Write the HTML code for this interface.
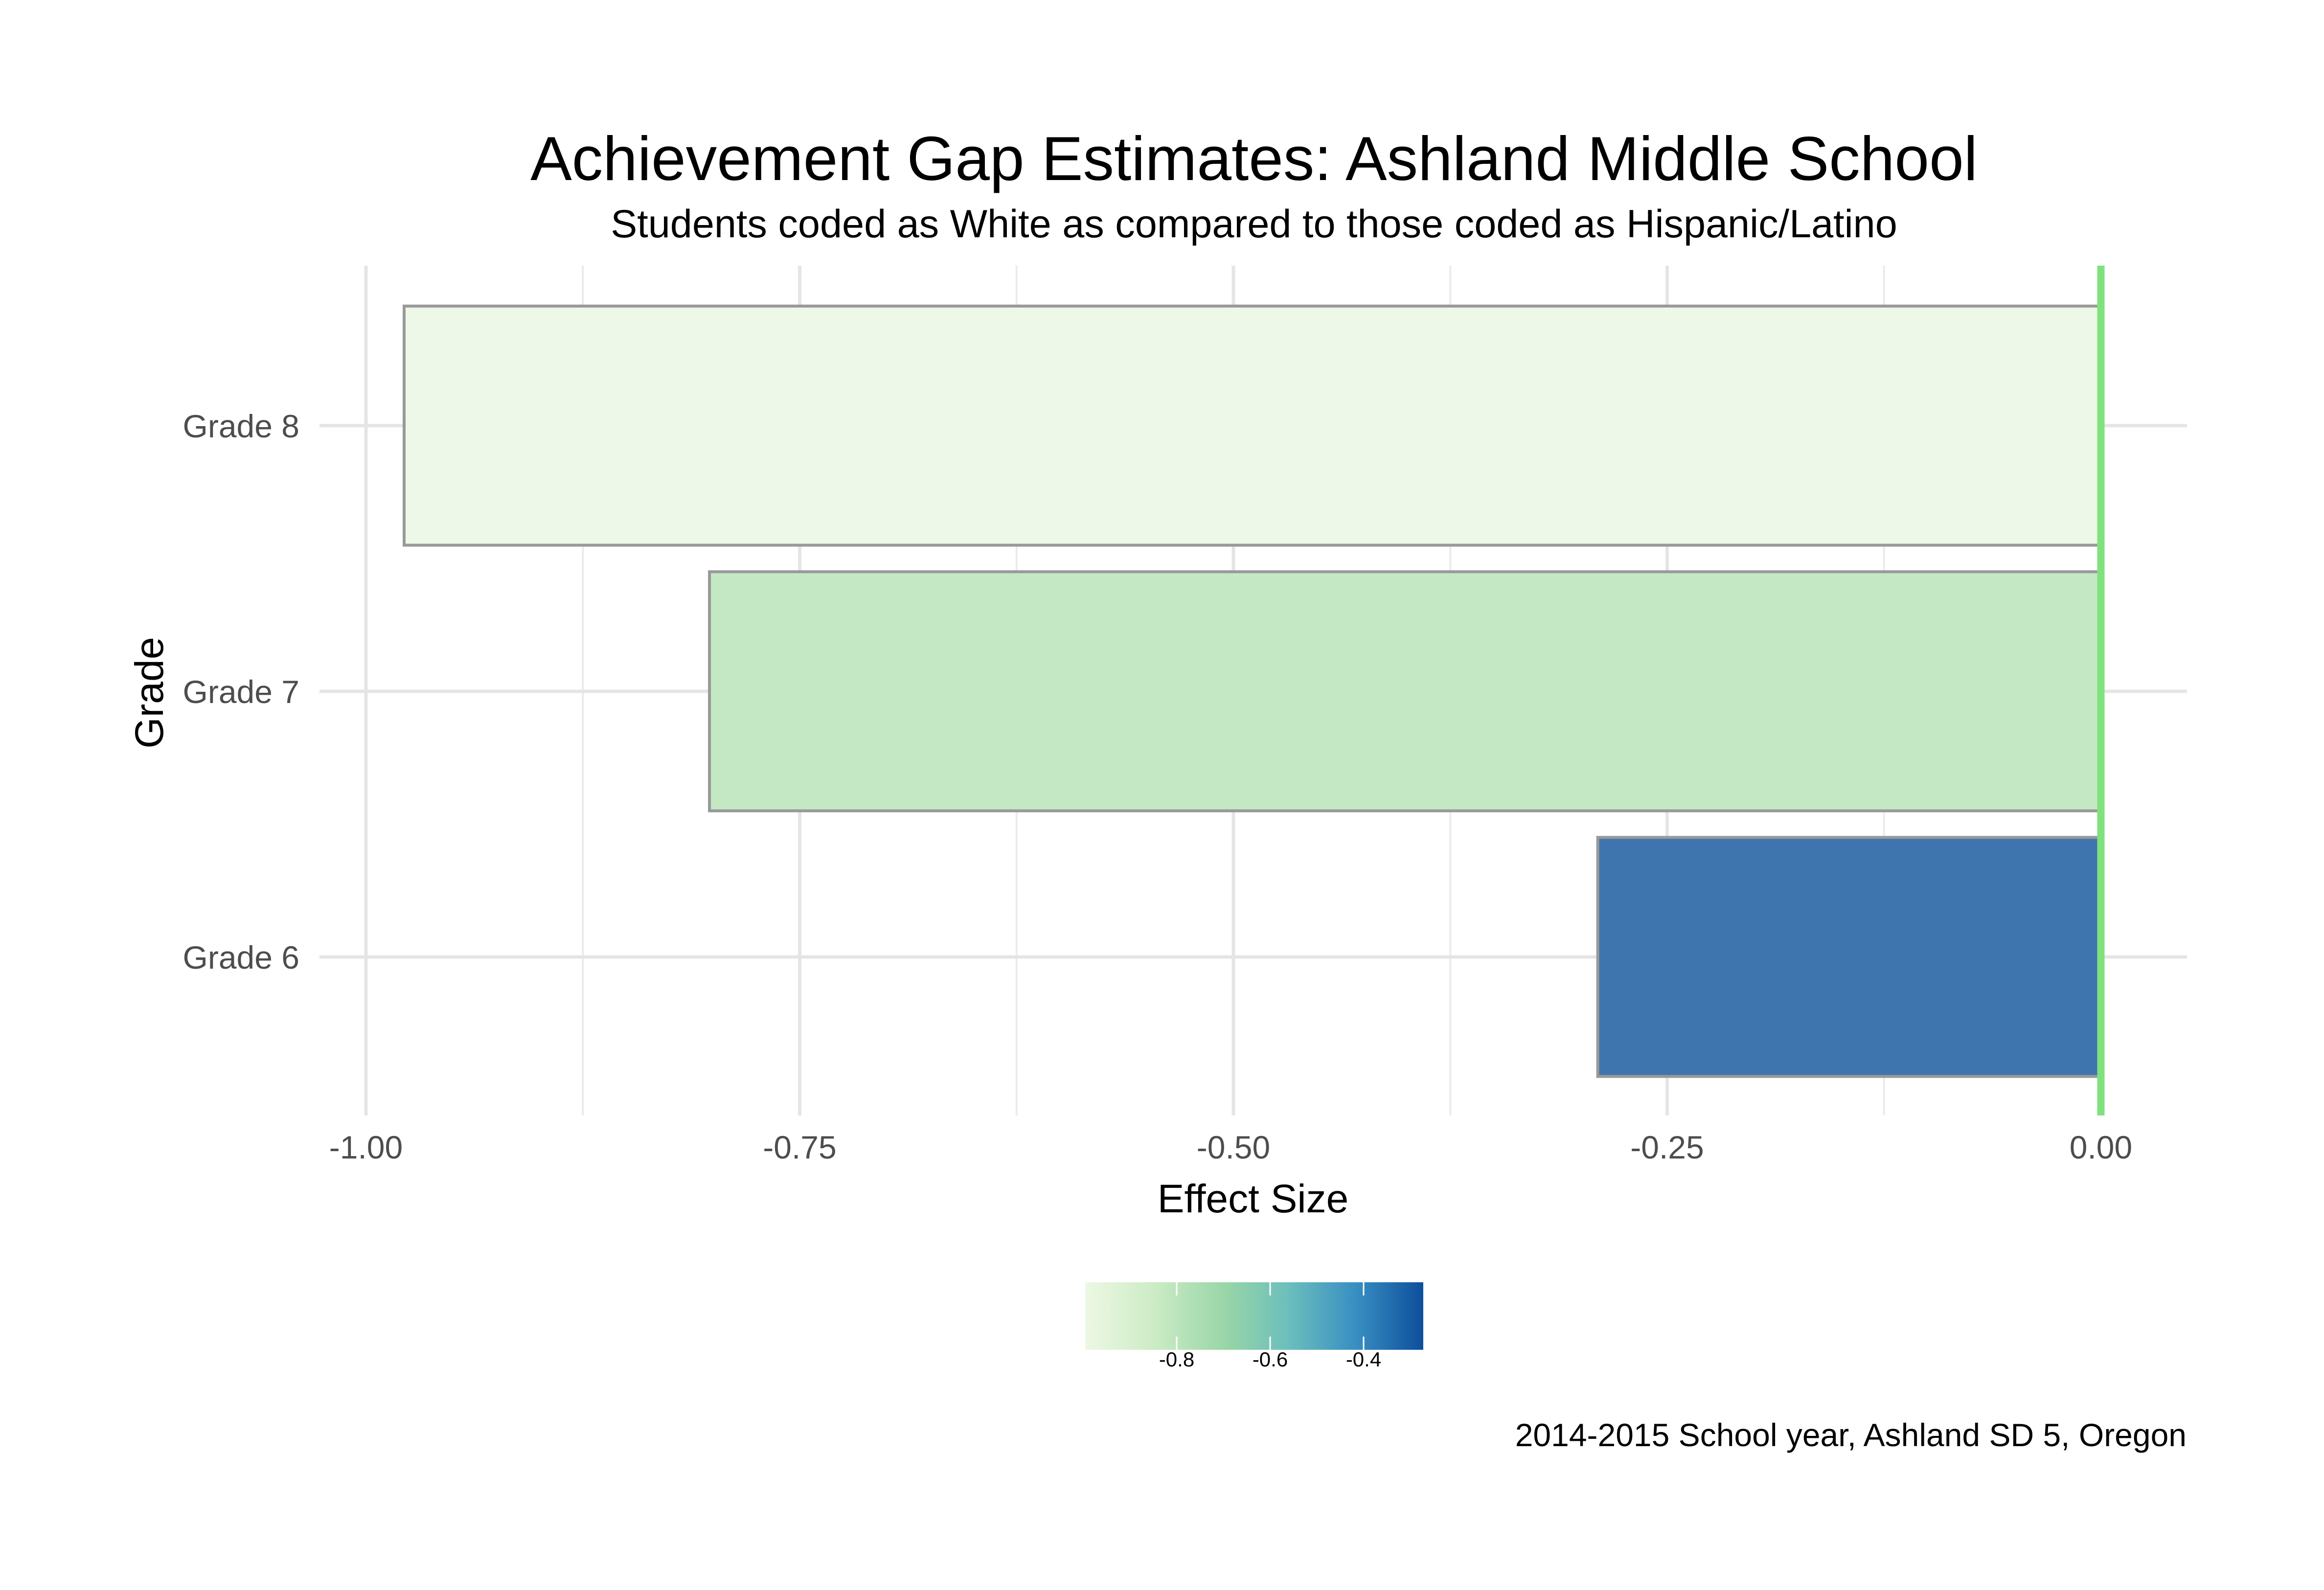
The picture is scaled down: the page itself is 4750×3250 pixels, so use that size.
<!DOCTYPE html>
<html><head><meta charset="utf-8"><style>
html,body{margin:0;padding:0;background:#fff;}
svg{display:block;font-family:"Liberation Sans",sans-serif;}
</style></head><body>
<svg id="chart" width="4750" height="3250" xmlns="http://www.w3.org/2000/svg">
<defs>
<linearGradient id="gnbu" x1="0" x2="1" y1="0" y2="0">
<stop offset="0" stop-color="#edf8e4"/>
<stop offset="0.2" stop-color="#cdecc6"/>
<stop offset="0.42" stop-color="#97d5a7"/>
<stop offset="0.6" stop-color="#6cbfbc"/>
<stop offset="0.8" stop-color="#388fc2"/>
<stop offset="1" stop-color="#0d4f9c"/>
</linearGradient>
</defs>
<g id="grid"></g>
<g id="bars"></g>
<g id="axes"></g>
<text x="2563" y="368" font-size="127" text-anchor="middle" fill="#000">Achievement Gap Estimates: Ashland Middle School</text>
<text x="2563" y="485" font-size="81" text-anchor="middle" fill="#000">Students coded as White as compared to those coded as Hispanic/Latino</text>
<text x="2561" y="2478" font-size="82" text-anchor="middle" fill="#000">Effect Size</text>
<text x="0" y="0" font-size="82" text-anchor="middle" fill="#000" transform="translate(333,1416) rotate(-90)">Grade</text>
<rect x="2218" y="2621" width="691" height="138" fill="url(#gnbu)"/>
<g id="legend"></g>
<text x="4469" y="2956" font-size="66" text-anchor="end" fill="#000">2014-2015 School year, Ashland SD 5, Oregon</text>
</svg>
<script>
const categories = ["Grade 6", "Grade 7", "Grade 8"];
const values = [-0.290, -0.802, -0.978];
const barColors = ["#3e75ae", "#c5e8c4", "#eef8e9"];
const xTicks = [-1.00, -0.75, -0.50, -0.25, 0.00];
const xTickLabels = ["-1.00", "-0.75", "-0.50", "-0.25", "0.00"];
const xMinor = [-0.875, -0.625, -0.375, -0.125];
const legendTicks = [-0.8, -0.6, -0.4];
const legendLabels = ["-0.8", "-0.6", "-0.4"];

const NS = "http://www.w3.org/2000/svg";
const PL = 653, PR = 4470, PT = 543, PB = 2280;
function xs(v){ return 4294 + v * 3546; }
function ys(i){ return 1956 - i * 543; }
const BAND = 543 * 0.9;
function lx(v){ return 2405 + (v + 0.8) / 0.2 * 191; }
function mk(tag, attrs, parent){
  const e = document.createElementNS(NS, tag);
  for (const k in attrs) e.setAttribute(k, attrs[k]);
  parent.appendChild(e); return e;
}
const grid = document.getElementById('grid');
const bars = document.getElementById('bars');
const axes = document.getElementById('axes');
const legend = document.getElementById('legend');

xMinor.forEach(v => {
  const l = mk('line', {x1: xs(v), x2: xs(v), y1: PT, y2: PB, stroke: '#ebebeb', 'stroke-width': 4}, grid);
  
  
});
xTicks.forEach((v, i) => {
  const l = mk('line', {x1: xs(v), x2: xs(v), y1: PT, y2: PB, stroke: '#e5e5e5', 'stroke-width': 7}, grid);
  
  
  const t = mk('text', {x: xs(v), y: 2368, 'font-size': 66, 'text-anchor': 'middle', fill: '#4d4d4d'}, axes);
  t.textContent = xTickLabels[i];
  
  
});
categories.forEach((c, i) => {
  const l = mk('line', {x1: PL, x2: PR, y1: ys(i), y2: ys(i), stroke: '#e5e5e5', 'stroke-width': 7}, grid);
  
  
  const t = mk('text', {x: 612, y: ys(i) + 24, 'font-size': 66, 'text-anchor': 'end', fill: '#4d4d4d'}, axes);
  t.textContent = c;
  
  
  const x0 = xs(values[i]), x1 = xs(0);
  const r = mk('rect', {x: Math.min(x0, x1), y: ys(i) - BAND/2, width: Math.abs(x1 - x0), height: BAND, fill: barColors[i], stroke: '#999999', 'stroke-width': 6}, bars);
  
  
});
const z = mk('line', {x1: xs(0), x2: xs(0), y1: PT, y2: PB, stroke: '#80e27d', 'stroke-width': 15}, bars);



legendTicks.forEach((v, i) => {
  const a = mk('line', {x1: lx(v), x2: lx(v), y1: 2621, y2: 2648, stroke: '#fff', 'stroke-width': 3}, legend);
  
  
  const b = mk('line', {x1: lx(v), x2: lx(v), y1: 2732, y2: 2759, stroke: '#fff', 'stroke-width': 3}, legend);
  
  
  const t = mk('text', {x: lx(v), y: 2793, 'font-size': 42, 'text-anchor': 'middle', fill: '#000'}, legend);
  t.textContent = legendLabels[i];
  
  
});
</script>
</body></html>
